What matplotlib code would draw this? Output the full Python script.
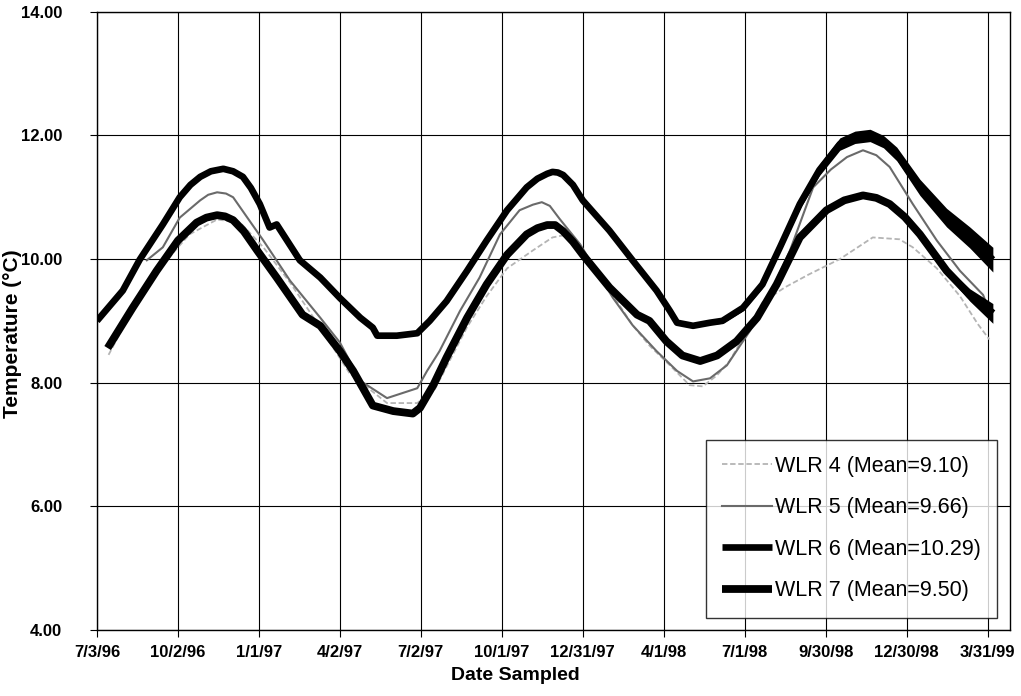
import matplotlib
matplotlib.use("Agg")
import matplotlib.pyplot as plt
import numpy as np
import pandas as pd

plt.rcParams['font.family'] = ['Liberation Sans', 'DejaVu Sans']

# logger readings, days after 7/3/96 and water temperature (deg C)
wlr4_days = [13, 56, 104, 135, 161, 187, 217, 251, 284, 326, 360, 380, 416, 438, 461, 490,
             512, 530, 546, 576, 602, 621, 644, 666, 681, 697, 711, 726, 748, 773, 800, 835,
             872, 902, 917, 944, 970, 990, 1003]
wlr4_temp = [8.45, 9.62, 10.40, 10.64, 10.59, 10.19, 9.62, 8.89, 8.15, 7.67, 7.67, 7.90, 8.90, 9.40, 9.85, 10.14,
             10.35, 10.40, 10.10, 9.50, 8.93, 8.60, 8.28, 7.96, 7.94, 8.12, 8.35, 8.72, 9.30, 9.54, 9.75, 10.00,
             10.35, 10.32, 10.19, 9.85, 9.40, 8.95, 8.70]

wlr5_days = [56, 74, 93, 116, 125, 135, 145, 153, 169, 187, 217, 251, 273, 296, 326, 360, 371, 385,
             408, 430, 453, 475, 490, 500, 509, 520, 543, 580, 602, 629, 652, 670, 689, 708, 734,
             756, 779, 805, 825, 843, 861, 876, 891, 917, 944, 970, 996, 1003]
wlr5_temp = [9.98, 10.19, 10.67, 10.95, 11.04, 11.08, 11.06, 11.00, 10.67, 10.30, 9.65, 9.05, 8.65, 8.03, 7.75, 7.91, 8.19, 8.51,
             9.16, 9.70, 10.40, 10.79, 10.88, 10.92, 10.86, 10.65, 10.24, 9.37, 8.93, 8.51, 8.19, 8.02, 8.07, 8.28, 8.84,
             9.42, 10.14, 11.16, 11.45, 11.65, 11.76, 11.68, 11.49, 10.89, 10.30, 9.81, 9.42, 9.16]

wlr6_days = [0, 29, 48, 74, 93, 105, 116, 128, 142, 153, 164, 173, 183, 194, 202, 228, 251, 273, 296, 310,
             315, 337, 360, 374, 393, 416, 438, 461, 483, 495, 506, 512, 518, 524, 535, 546, 576, 602, 629,
             644, 652, 670, 689, 703, 726, 748, 768, 790, 812, 835, 852, 869, 884, 899, 925, 955, 981, 1007]
wlr6_temp = [9.00, 9.49, 9.99, 10.56, 11.00, 11.20, 11.33, 11.42, 11.46, 11.42, 11.33, 11.15, 10.89, 10.51, 10.56, 9.98,
             9.70, 9.37, 9.05, 8.89, 8.76, 8.76, 8.80, 9.00, 9.32, 9.81, 10.30, 10.79, 11.16, 11.30, 11.38, 11.41,
             11.40, 11.36, 11.20, 10.95, 10.46, 9.98, 9.49, 9.16, 8.97, 8.92, 8.97, 9.00, 9.21, 9.59, 10.20, 10.89,
             11.44, 11.86, 11.97, 12.00, 11.90, 11.70, 11.16, 10.67, 10.35, 9.99]
# daily swing (half range) once the record gets noisy, from 670 days on
wlr6_swing = [0.02, 0.03, 0.04, 0.05, 0.06, 0.07, 0.08, 0.09, 0.10, 0.10, 0.10, 0.10, 0.11,
              0.13, 0.15, 0.17, 0.20]

wlr7_days = [12, 40, 67, 91, 112, 123, 135, 144, 153, 165, 180, 202, 231, 251, 273, 288, 299, 310, 333,
             355, 363, 378, 393, 416, 438, 461, 483, 495, 506, 515, 524, 535, 546, 576, 607, 621, 640,
             658, 678, 697, 719, 742, 764, 790, 820, 840, 861, 876, 891, 908, 925, 955, 981, 1007]
wlr7_temp = [8.56, 9.21, 9.81, 10.30, 10.59, 10.67, 10.71, 10.69, 10.63, 10.45, 10.14, 9.70, 9.10, 8.92, 8.51, 8.19,
             7.91, 7.63, 7.54, 7.50, 7.59, 7.96, 8.41, 9.05, 9.59, 10.07, 10.40, 10.50, 10.55, 10.55, 10.45, 10.28,
             10.07, 9.54, 9.10, 9.00, 8.67, 8.44, 8.35, 8.44, 8.67, 9.05, 9.59, 10.35, 10.79, 10.95, 11.03, 10.99,
             10.89, 10.68, 10.40, 9.81, 9.42, 9.12]
wlr7_swing = [0.02, 0.06, 0.10, 0.16]

series_labels = ['WLR 4 (Mean=9.10)', 'WLR 5 (Mean=9.66)',
                 'WLR 6 (Mean=10.29)', 'WLR 7 (Mean=9.50)']
date_ticks = ['7/3/96', '10/2/96', '1/1/97', '4/2/97', '7/2/97', '10/1/97',
              '12/31/97', '4/1/98', '7/1/98', '9/30/98', '12/30/98', '3/31/99']

start = pd.Timestamp('1996-07-03')


def to_dates(days):
    return start + pd.to_timedelta(np.array(days), unit='D')


fig = plt.figure(figsize=(10.21, 6.96), dpi=100)
ax = fig.add_axes([0.095, 0.095, 0.894, 0.888])

ax.plot(to_dates(wlr4_days), wlr4_temp, color='#b4b4b4', lw=1.3,
        ls=(0, (3, 1.5)), label=series_labels[0], zorder=3)
ax.plot(to_dates(wlr5_days), wlr5_temp, color='#6a6a6a', lw=1.5,
        label=series_labels[1], zorder=3)

d6 = to_dates(wlr6_days)
ax.plot(d6, wlr6_temp, color='black', lw=4.8, solid_capstyle='butt',
        label=series_labels[2], zorder=4)
n6 = len(wlr6_swing)
t6 = np.array(wlr6_temp[-n6:])
ax.fill_between(d6[-n6:], t6 - np.array(wlr6_swing), t6 + np.array(wlr6_swing),
                color='black', lw=0, zorder=4)

d7 = to_dates(wlr7_days)
ax.plot(d7, wlr7_temp, color='black', lw=5.6, solid_capstyle='butt',
        label=series_labels[3], zorder=4)
n7 = len(wlr7_swing)
t7 = np.array(wlr7_temp[-n7:])
ax.fill_between(d7[-n7:], t7 - np.array(wlr7_swing), t7 + np.array(wlr7_swing),
                color='black', lw=0, zorder=4)

tick_pos = pd.to_datetime(date_ticks, format='%m/%d/%y')
ax.set_xticks(tick_pos)
ax.set_xticklabels(date_ticks, fontsize=12, fontweight='bold')
ax.set_xlim(start, start + pd.Timedelta(days=1026))

ax.set_ylim(4, 14)
ax.set_yticks(np.arange(4, 14.01, 2))
ax.set_yticklabels(['%.2f' % v for v in np.arange(4, 14.01, 2)],
                   fontsize=12, fontweight='bold')

ax.grid(True, color='black', lw=0.8)
ax.set_axisbelow(True)
for s in ax.spines.values():
    s.set_color('black')
    s.set_linewidth(1.0)
ax.tick_params(direction='out', length=5, width=0.8, color='black')
ax.tick_params(axis='x', pad=6)
ax.tick_params(axis='y', pad=20)

ax.set_xlabel('Date Sampled', fontsize=14, fontweight='bold')
ax.xaxis.set_label_coords(0.458, -0.06)
ax.set_ylabel('Temperature (°C)', fontsize=15, fontweight='bold')
ax.yaxis.set_label_coords(-0.082, 0.48)

leg = ax.legend(loc='lower right', bbox_to_anchor=(0.986, 0.02), fontsize=15.5,
                frameon=True, fancybox=False, handlelength=2.3, handletextpad=0.15,
                labelspacing=0.95, borderpad=0.75, borderaxespad=0)
leg.get_frame().set_edgecolor('black')
leg.get_frame().set_linewidth(1.0)

plt.savefig('out.png', dpi=100)
